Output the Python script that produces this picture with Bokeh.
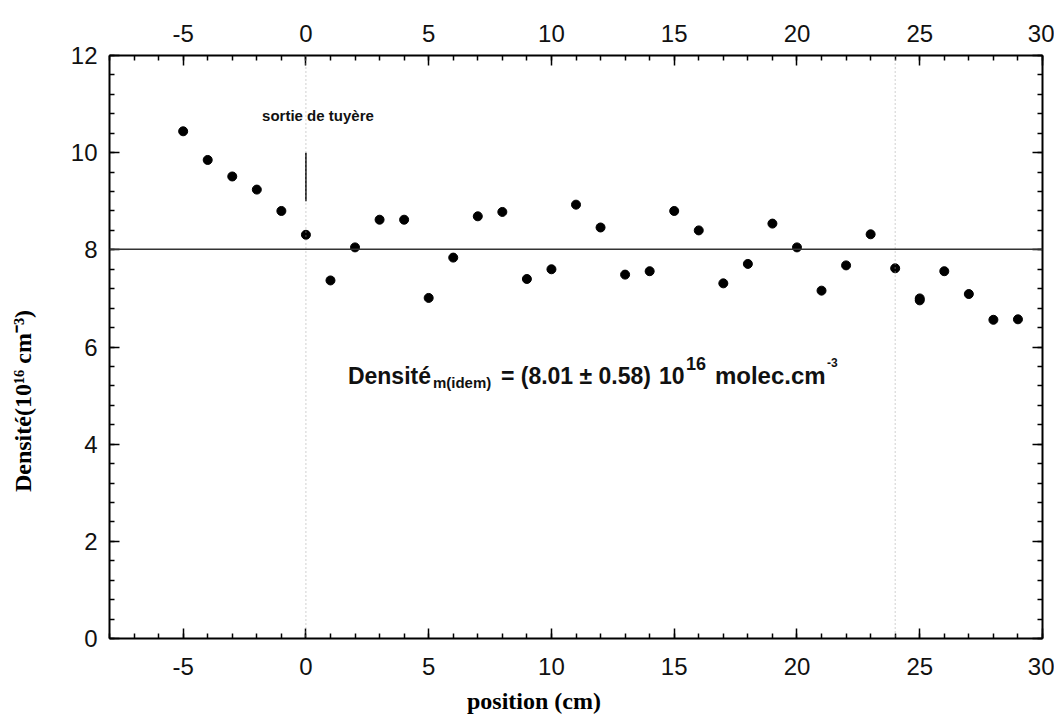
from bokeh.plotting import figure
from bokeh.models import (LinearAxis, Range1d, SingleIntervalTicker, Span,
                          CustomJSTickFormatter, ColumnDataSource)
from bokeh.core.properties import value
from bokeh.embed import file_html
from bokeh.resources import INLINE

# ---- data ----
positions = [-5, -4, -3, -2, -1, 0, 1, 2, 3, 4, 5, 6, 7, 8, 9, 10, 11, 12, 13, 14,
             15, 16, 17, 18, 19, 20, 21, 22, 23, 24, 25, 25, 26, 27, 28, 29]
densities = [10.44, 9.85, 9.51, 9.24, 8.80, 8.31, 7.37, 8.05, 8.62, 8.62, 7.01,
             7.84, 8.69, 8.78, 7.40, 7.60, 8.93, 8.46, 7.49, 7.56, 8.80, 8.40,
             7.31, 7.71, 8.54, 8.05, 7.16, 7.68, 8.32, 7.62, 6.96, 7.00, 7.56,
             7.09, 6.56, 6.57]
mean_density = 8.01
std_density = 0.58
nozzle_exit = 0
zone_end = 24
nozzle_marker = [9, 10]
x_limits = [-8, 30]
y_limits = [0, 12]
x_title = "position (cm)"
y_title = "Densité(10¹⁶ cm⁻³)"

NBSP = "\u00a0"

p = figure(width=1054, height=716, output_backend="svg", toolbar_location=None,
           x_range=Range1d(*x_limits), y_range=Range1d(*y_limits),
           x_axis_location=None, y_axis_location=None,
           min_border_left=109, min_border_right=12, min_border_top=55,
           min_border_bottom=78)
p.outline_line_color = None
p.xgrid.visible = False
p.ygrid.visible = False
p.background_fill_color = "white"

TICK_FONT = "Liberation Sans"
LABEL_FONT = "Liberation Serif"
plain = CustomJSTickFormatter(code="return tick.toString()")
blank = CustomJSTickFormatter(code="return ''")


def style_axis(ax, standoff, show_labels=True):
    ax.axis_line_width = 2
    ax.axis_line_color = "black"
    ax.major_tick_in = 10
    ax.major_tick_out = 0
    ax.minor_tick_in = 5
    ax.minor_tick_out = 0
    ax.major_tick_line_width = 1.5
    ax.minor_tick_line_width = 1.5
    ax.major_label_text_font = TICK_FONT
    ax.major_label_text_font_size = "24px"
    ax.major_label_text_color = "#111111"
    ax.major_label_standoff = standoff
    ax.formatter = plain if show_labels else blank


def title_axis(text, standoff, size):
    # invisible axis that only carries the title
    ax = LinearAxis(ticker=SingleIntervalTicker(interval=100, num_minor_ticks=0))
    ax.axis_line_color = None
    ax.major_tick_line_color = None
    ax.minor_tick_line_color = None
    ax.major_tick_in = 0
    ax.major_tick_out = 0
    ax.minor_tick_in = 0
    ax.minor_tick_out = 0
    ax.formatter = blank
    ax.major_label_text_font_size = "1px"
    ax.major_label_standoff = 0
    ax.axis_label = text
    ax.axis_label_text_font = LABEL_FONT
    ax.axis_label_text_font_style = "bold"
    ax.axis_label_text_font_size = size
    ax.axis_label_text_color = "black"
    ax.axis_label_standoff = standoff
    return ax


bottom = LinearAxis(ticker=SingleIntervalTicker(interval=5, num_minor_ticks=5))
style_axis(bottom, 19)
p.add_layout(bottom, "below")
# trailing no-break spaces shift the title left, as in the original
p.add_layout(title_axis(x_title + NBSP * 14, 10, "24px"), "below")

top = LinearAxis(ticker=SingleIntervalTicker(interval=5, num_minor_ticks=5))
style_axis(top, 14)
p.add_layout(top, "above")

left = LinearAxis(ticker=SingleIntervalTicker(interval=2, num_minor_ticks=5))
style_axis(left, 12)
p.add_layout(left, "left")
p.add_layout(title_axis(y_title + NBSP * 18, 32, "24px"), "left")

right = LinearAxis(ticker=SingleIntervalTicker(interval=2, num_minor_ticks=5))
style_axis(right, 5, show_labels=False)
p.add_layout(right, "right")

# reference lines
for loc in (nozzle_exit, zone_end):
    p.add_layout(Span(location=loc, dimension="height", line_color="#a0a0a0",
                      line_dash="1 3", line_width=1))
p.add_layout(Span(location=mean_density, dimension="width", line_color="#333333",
                  line_width=1.5))

p.segment(x0=[nozzle_exit], y0=[nozzle_marker[0]], x1=[nozzle_exit],
          y1=[nozzle_marker[1]], line_color="black", line_width=1.5)

src = ColumnDataSource(dict(x=positions, y=densities))
p.scatter("x", "y", source=src, size=9, color="black")

p.text(x=[0.49], y=[10.77], text=["sortie de tuyère"], text_font=value(TICK_FONT),
       text_font_style="bold", text_font_size="15px", text_align="center",
       text_baseline="alphabetic", text_color="#111111")

# formula annotation
fx, fy = 1.71, 5.41
pieces = [
    ("Densité", "23px", 0, 0),
    ("m(idem)", "15px", 85, 7),
    ("= (8.01 ± 0.58)", "23px", 153, 0),
    ("10", "23px", 311, 0),
    ("16", "18px", 338, -12),
    ("molec.cm", "24px", 367, 0),
    ("-3", "12px", 479, -13),
]
for txt, fs, dx, dy in pieces:
    p.text(x=[fx], y=[fy], text=[txt], text_font=value(TICK_FONT),
           text_font_style="bold", text_font_size=fs, text_align="left",
           text_baseline="alphabetic", x_offset=dx, y_offset=dy,
           text_color="#111111")

open("out.html", "w").write(file_html(p, INLINE))
